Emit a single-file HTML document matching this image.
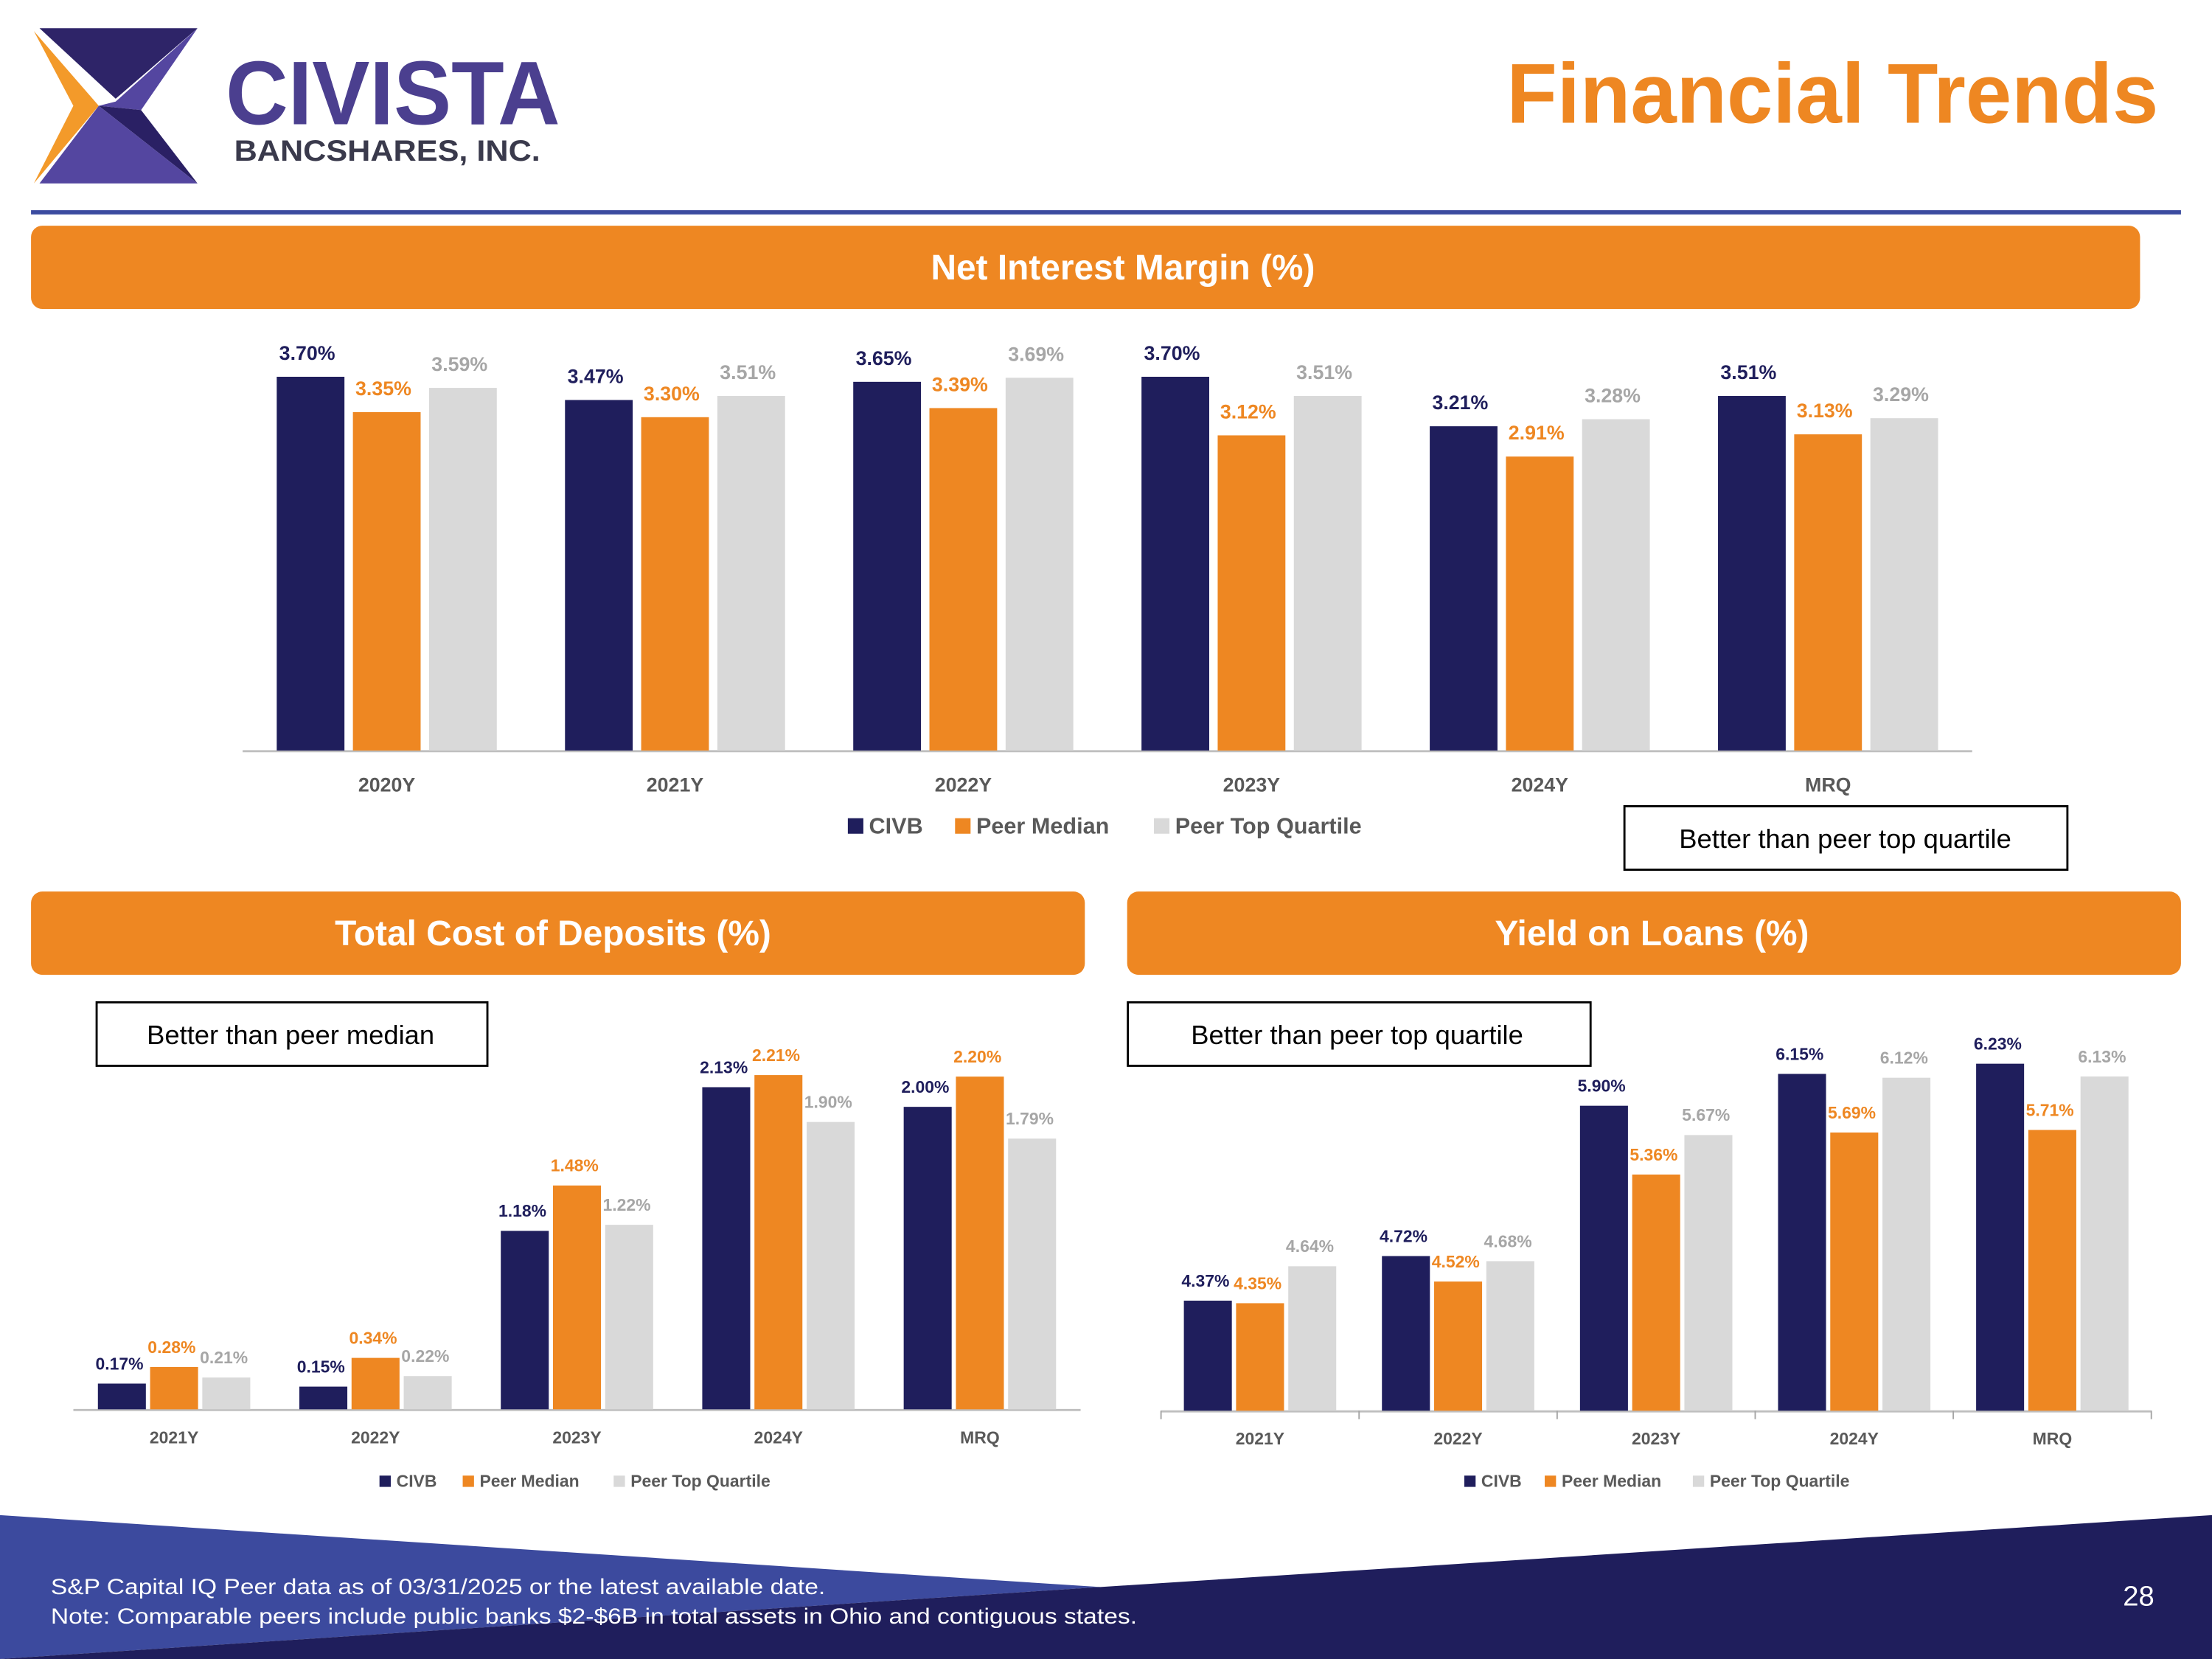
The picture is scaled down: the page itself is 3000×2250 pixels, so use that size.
<!DOCTYPE html>
<html><head><meta charset="utf-8"><style>
html,body{margin:0;padding:0;background:#fff;}
svg{display:block;font-family:"Liberation Sans",sans-serif;}
</style></head><body>
<svg id="page" width="3000" height="2250" viewBox="0 0 1568 1176" preserveAspectRatio="none" xmlns="http://www.w3.org/2000/svg">
<rect width="1568" height="1176" fill="#fff"/>
<g>
  <polygon points="24,22 70,75 24,130 52,75" fill="#F39A2A"/>
  <polygon points="28,20 140,20 82,70" fill="#2E2468"/>
  <polygon points="140,20 82,72 70,75 100,78" fill="#5446A0"/>
  <polygon points="70,75 140,130 100,78" fill="#2A2064"/>
  <polygon points="70,75 28,130 140,130" fill="#5446A0"/>
  <text x="160" y="88" font-size="64" font-weight="bold" fill="#4B3F8F" textLength="237" lengthAdjust="spacingAndGlyphs">CIVISTA</text>
  <text x="166" y="114" font-size="21" font-weight="bold" fill="#3A3A4C" textLength="217" lengthAdjust="spacingAndGlyphs">BANCSHARES, INC.</text>
</g>
<text x="1530" y="87" text-anchor="end" font-size="60" font-weight="bold" fill="#EE8722" textLength="462" lengthAdjust="spacingAndGlyphs">Financial Trends</text>
<rect x="22" y="149" width="1524" height="3" fill="#3B4BA0"/>

<rect x="22" y="160" width="1495" height="59" rx="8" fill="#EE8722"/>
<text x="796" y="198" text-anchor="middle" font-size="25" font-weight="bold" fill="#fff">Net Interest Margin (%)</text>
<rect x="22" y="632" width="747" height="59" rx="8" fill="#EE8722"/>
<text x="392" y="670" text-anchor="middle" font-size="25" font-weight="bold" fill="#fff">Total Cost of Deposits (%)</text>
<rect x="799" y="632" width="747" height="59" rx="8" fill="#EE8722"/>
<text x="1171" y="670" text-anchor="middle" font-size="25" font-weight="bold" fill="#fff">Yield on Loans (%)</text>

<g id="nim"></g>
<g id="dep"></g>
<g id="loan"></g>

<g><rect x="1151.5" y="571.5" width="314" height="45" fill="#fff" stroke="#000" stroke-width="1.5"/><text x="1308" y="601" text-anchor="middle" font-size="19">Better than peer top quartile</text></g>
<g><rect x="68.5" y="710.5" width="277" height="45" fill="#fff" stroke="#000" stroke-width="1.5"/><text x="206" y="740" text-anchor="middle" font-size="19">Better than peer median</text></g>
<g><rect x="799.5" y="710.5" width="328" height="45" fill="#fff" stroke="#000" stroke-width="1.5"/><text x="962" y="740" text-anchor="middle" font-size="19">Better than peer top quartile</text></g>

<g>
  <polygon points="0,1074 780,1125 0,1176" fill="#3C4A9E"/>
  <polygon points="1568,1074 1568,1176 0,1176 780,1125" fill="#1F1E5C"/>
  <text x="36" y="1130" font-size="15.5" fill="#fff" textLength="549" lengthAdjust="spacingAndGlyphs">S&amp;P Capital IQ Peer data as of 03/31/2025 or the latest available date.</text>
  <text x="36" y="1151" font-size="15.5" fill="#fff" textLength="770" lengthAdjust="spacingAndGlyphs">Note: Comparable peers include public banks $2-$6B in total assets in Ohio and contiguous states.</text>
  <text x="1516" y="1138" text-anchor="middle" font-size="20" fill="#fff">28</text>
</g>
</svg>
<script>
const nimCats = ["2020Y","2021Y","2022Y","2023Y","2024Y","MRQ"];
const nimCivb = [3.70,3.47,3.65,3.70,3.21,3.51];
const nimMedian = [3.35,3.30,3.39,3.12,2.91,3.13];
const nimTop = [3.59,3.51,3.69,3.51,3.28,3.29];
const depCats = ["2021Y","2022Y","2023Y","2024Y","MRQ"];
const depCivb = [0.17,0.15,1.18,2.13,2.00];
const depMedian = [0.28,0.34,1.48,2.21,2.20];
const depTop = [0.21,0.22,1.22,1.90,1.79];
const loanCats = ["2021Y","2022Y","2023Y","2024Y","MRQ"];
const loanCivb = [4.37,4.72,5.90,6.15,6.23];
const loanMedian = [4.35,4.52,5.36,5.69,5.71];
const loanTop = [4.64,4.68,5.67,6.12,6.13];
const seriesNames = ["CIVB","Peer Median","Peer Top Quartile"];

const NS="http://www.w3.org/2000/svg";
const fills=["#1F1E5C","#EE8722","#D9D9D9"];
const labelFills=["#1F1E5C","#EE8722","#A6A6A6"];
function mk(parent,tag,attrs,txt){const e=document.createElementNS(NS,tag);for(const k in attrs)e.setAttribute(k,attrs[k]);if(txt!==undefined)e.textContent=txt;parent.appendChild(e);return e;}

function drawChart(c){
  const g=document.getElementById(c.id);
  const n=c.cats.length, gw=(c.x1-c.x0)/n;
  const yScale=v=>c.base-(v-c.vmin)*c.ppu;
  const xGroup=i=>c.x0+gw*i+gw/2;
  const ax=mk(g,'line',{x1:c.x0,x2:c.x1,y1:c.base+0.5,y2:c.base+0.5,stroke:'#BFBFBF','stroke-width':1.5});
  
  
  if(c.ticks){for(let i=0;i<=n;i++){const t=mk(g,'line',{x1:c.x0+gw*i,x2:c.x0+gw*i,y1:c.base,y2:c.base+6,stroke:'#A6A6A6','stroke-width':1});
    
    }}
  c.series.forEach((vals,s)=>{
    vals.forEach((v,i)=>{
      const cx=xGroup(i)+(s-1)*(c.bw+c.gap);
      const y=yScale(v);
      const r=mk(g,'rect',{x:cx-c.bw/2,y:y,width:c.bw,height:c.base-y,fill:fills[s]});
      
      
      const t=mk(g,'text',{x:cx-c.bw*0.05,y:y-c.lo,'text-anchor':'middle','font-size':c.lfs,'font-weight':'bold',fill:labelFills[s]},v.toFixed(2)+'%');
      
      
    });
  });
  c.cats.forEach((cat,i)=>{
    const t=mk(g,'text',{x:xGroup(i),y:c.catY,'text-anchor':'middle','font-size':c.cfs,'font-weight':'bold',fill:'#595959'},cat);
    
    
  });
  const lg=mk(g,'g',{});
  
  
  seriesNames.forEach((nm,s)=>{
    const lx=c.legX[s];
    mk(lg,'rect',{x:lx,y:c.legY-c.legSq+1,width:c.legSq,height:c.legSq,fill:fills[s]});
    const t=mk(lg,'text',{x:lx+c.legSq+4,y:c.legY+1,'font-size':c.lgfs,'font-weight':'bold',fill:'#595959'},nm);
    
    
  });
}
drawChart({id:'nim',key:'nim',cats:nimCats,series:[nimCivb,nimMedian,nimTop],x0:172,x1:1398,base:532,vmin:0,ppu:71.6,bw:48,gap:6,lo:12,lfs:14,catY:561,cfs:14,legX:[601,677,818],legY:590,legSq:11,lgfs:16,ticks:false});
drawChart({id:'dep',key:'deposits',cats:depCats,series:[depCivb,depMedian,depTop],x0:52,x1:766,base:999,vmin:0,ppu:107.2,bw:34,gap:3,lo:10,lfs:12,catY:1023,cfs:12,legX:[269,328,435],legY:1053,legSq:8,lgfs:12,ticks:false});
drawChart({id:'loan',key:'loans',cats:loanCats,series:[loanCivb,loanMedian,loanTop],x0:823,x1:1525,base:1000,vmin:3.506,ppu:90.3,bw:34,gap:3,lo:10,lfs:12,catY:1024,cfs:12,legX:[1038,1095,1200],legY:1053,legSq:8,lgfs:12,ticks:true});
</script>
</body></html>
